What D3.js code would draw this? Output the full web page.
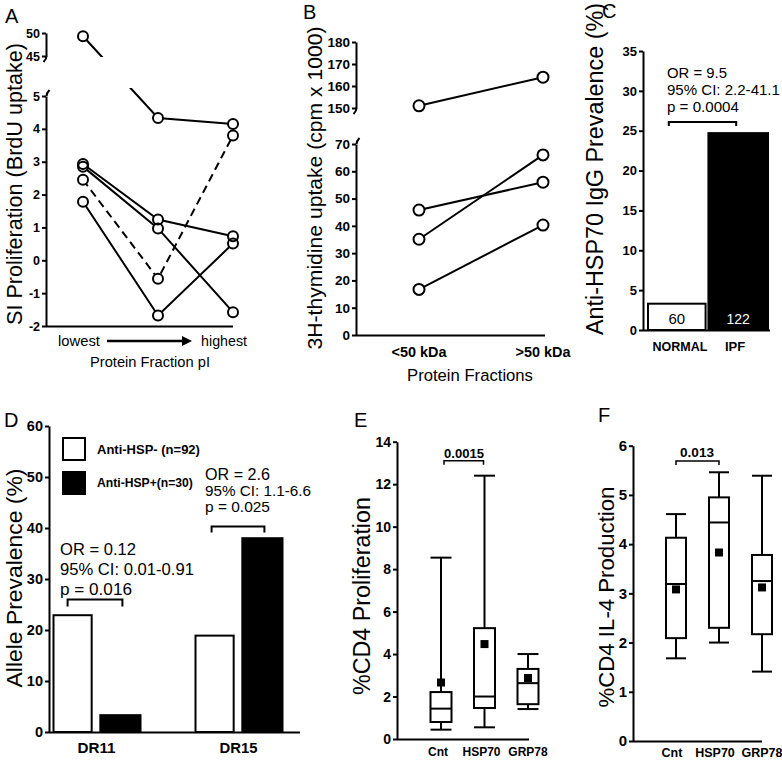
<!DOCTYPE html>
<html><head><meta charset="utf-8">
<script src="https://cdn.jsdelivr.net/npm/d3@7"></script>
<style>body{margin:0;background:#fff}</style>
</head><body>
<svg id="chart" width="782" height="760"></svg>
<script>
// ---------------- DATA ----------------
// Panel A : SI proliferation per protein fraction pI
const aFractions = ["lowest", "middle", "highest"];
const aUpperTicks = [45, 50];
const aLowerTicks = [-2, -1, 0, 1, 2, 3, 4, 5];
const aSubject1 = [49.3, 4.33, 4.15];
const aSubject2 = [2.45, -0.56, 3.8];   // dashed
const aSubject3 = [2.93, 1.24, 0.73];
const aSubject4 = [2.85, 0.97, -1.58];
const aSubject5 = [1.78, -1.68, 0.51];
const aDashed = [false, true, false, false, false];

// Panel B : 3H-thymidine uptake
const bFractions = ["<50 kDa", ">50 kDa"];
const bUpperTicks = [150, 160, 170, 180];
const bLowerTicks = [0, 10, 20, 30, 40, 50, 60, 70];
const bSubject1 = [151, 164];
const bSubject2 = [45.8, 56];
const bSubject3 = [35.1, 66];
const bSubject4 = [16.7, 40.3];

// Panel C : Anti-HSP70 IgG prevalence
const cGroups = ["NORMAL", "IPF"];
const cPrevalence = [3.3, 24.7];
const cN = ["60", "122"];
const cTicks = [0, 5, 10, 15, 20, 25, 30, 35];
const cStats = ["OR = 9.5", "95% CI: 2.2-41.1", "p = 0.0004"];
const cBracketLevel = 26.1;

// Panel D : Allele prevalence
const dAlleles = ["DR11", "DR15"];
const dSeries = ["Anti-HSP- (n=92)", "Anti-HSP+(n=30)"];
const dNegative = [22.9, 18.9];
const dPositive = [3.3, 38.0];
const dTicks = [0, 10, 20, 30, 40, 50, 60];
const dStatsDR11 = ["OR = 0.12", "95% CI: 0.01-0.91", "p = 0.016"];
const dStatsDR15 = ["OR = 2.6", "95% CI: 1.1-6.6", "p = 0.025"];
const dBracketLevels = [26.0, 40.3];

// Panel E : %CD4 proliferation (box plots)
const eGroups = ["Cnt", "HSP70", "GRP78"];
const eMin = [0.44, 0.55, 1.41];
const eQ1 = [0.80, 1.46, 1.64];
const eMedian = [1.43, 2.00, 2.63];
const eQ3 = [2.21, 5.22, 3.30];
const eMax = [8.54, 12.4, 4.00];
const eMean = [2.66, 4.47, 2.87];
const eTicks = [0, 2, 4, 6, 8, 10, 12, 14];
const eP = "0.0015";
const eBracketLevel = 13.1;

// Panel F : %CD4 IL-4 production (box plots)
const fGroups = ["Cnt", "HSP70", "GRP78"];
const fMin = [1.68, 2.00, 1.41];
const fQ1 = [2.09, 2.30, 2.17];
const fMedian = [3.19, 4.44, 3.25];
const fQ3 = [4.13, 4.95, 3.78];
const fMax = [4.61, 5.46, 5.39];
const fMean = [3.08, 3.83, 3.12];
const fTicks = [0, 1, 2, 3, 4, 5, 6];
const fP = "0.013";
const fBracketLevel = 5.69;

// ---------------- HELPERS ----------------
const FONT = '"Liberation Sans", Arial, sans-serif';
const svg = d3.select("#chart");

function fit(t, len) {
  const l = t.node().getComputedTextLength();
  const fs = parseFloat(t.attr("font-size"));
  t.attr("font-size", (fs * len / l).toFixed(2));
  return t;
}
function txt(x, y, s, fs, opts = {}) {
  const t = svg.append("text").attr("x", x).attr("y", y).text(s)
    .attr("font-family", FONT).attr("font-size", fs).attr("fill", opts.fill || "#000")
    .attr("font-weight", opts.bold ? "bold" : "normal")
    .attr("text-anchor", opts.anchor || "start");
  if (opts.len) fit(t, opts.len);
  return t;
}
function vTitle(s, cx, cy, len) {
  const t = svg.append("text").attr("transform", `translate(${cx},${cy}) rotate(-90)`)
    .attr("text-anchor", "middle").attr("dominant-baseline", "central")
    .attr("font-family", FONT).attr("font-size", 18).attr("fill", "#000").text(s);
  fit(t, len);
}
function panelLetter(s, x, y) {
  svg.append("text").attr("x", x).attr("y", y).text(s)
    .attr("font-family", FONT).attr("font-size", 20).attr("fill", "#000");
}
function yAxis(scale, ticks, x, fs) {
  const a = svg.append("g").attr("transform", `translate(${x},0)`)
    .call(d3.axisLeft(scale).tickValues(ticks).tickSize(4).tickSizeOuter(0).tickPadding(2).tickFormat(d => String(d)));
  a.select(".domain").attr("stroke", "#000").attr("stroke-width", 2);
  a.selectAll(".tick line").attr("stroke", "#000").attr("stroke-width", 2);
  a.selectAll(".tick text").attr("font-family", FONT).attr("font-weight", "bold")
    .attr("font-size", fs).attr("fill", "#000");
  return a;
}
function hline(x1, x2, y, w = 2) {
  svg.append("line").attr("x1", x1).attr("x2", x2).attr("y1", y).attr("y2", y)
    .attr("stroke", "#000").attr("stroke-width", w);
}
function hook(x, y, dir) {
  svg.append("path").attr("d", `M${x},${y} q0,${3 * dir} ${-3 * dir},${6 * dir}`)
    .attr("fill", "none").attr("stroke", "#000").attr("stroke-width", 2);
}
function bracket(x1, x2, y, leg, w = 2) {
  svg.append("path").attr("d", `M${x1},${y + leg}V${y}H${x2}V${y + leg}`)
    .attr("fill", "none").attr("stroke", "#000").attr("stroke-width", w);
}
function circles(points, r) {
  const g = svg.append("g");
  g.selectAll("circle.f").data(points).join("circle").attr("cx", d => d[0]).attr("cy", d => d[1])
    .attr("r", r).attr("fill", "#fff");
  g.selectAll("circle.s").data(points).join("circle").attr("cx", d => d[0]).attr("cy", d => d[1])
    .attr("r", r).attr("fill", "none").attr("stroke", "#000").attr("stroke-width", 2);
}

// ---------------- PANEL A ----------------
panelLetter("A", 5, 23);
const aX = d3.scalePoint().domain(aFractions).range([83, 233]);
const aYTop = d3.scaleLinear().domain([45, 50]).range([56, 33]);
const aYBot = d3.scaleLinear().domain([-2, 5]).range([326, 96]);
const aY = v => v >= 45 ? aYTop(v) : aYBot(v);
yAxis(aYTop, aUpperTicks, 46, 12.5);
yAxis(aYBot, aLowerTicks, 46, 12.5);
hook(46.5, 56, 1); hook(46.5, 96, -1);
hline(46, 233, 326.5);
const aDefs = svg.append("defs");
const aClip = aDefs.append("clipPath").attr("id", "clipA");
aClip.append("rect").attr("x", 0).attr("y", 0).attr("width", 260).attr("height", 57);
aClip.append("rect").attr("x", 0).attr("y", 88).attr("width", 260).attr("height", 260);
const aAll = [aSubject1, aSubject2, aSubject3, aSubject4, aSubject5];
const aLine = d3.line().x((d, i) => aX(aFractions[i])).y(d => aY(d));
svg.append("g").attr("clip-path", "url(#clipA)").selectAll("path").data(aAll).join("path")
  .attr("d", aLine).attr("fill", "none").attr("stroke", "#000").attr("stroke-width", 2)
  .attr("stroke-dasharray", (d, i) => aDashed[i] ? "8,5" : null);
circles(aAll.flatMap(s => s.map((v, i) => [aX(aFractions[i]), aY(v)])), 5);
txt(58, 346, "lowest", 14, { len: 42 });
txt(247, 346, "highest", 14, { anchor: "end", len: 46 });
svg.append("line").attr("x1", 107).attr("x2", 183).attr("y1", 341).attr("y2", 341)
  .attr("stroke", "#000").attr("stroke-width", 2.5);
svg.append("path").attr("d", "M182,336L192,341L182,346Z").attr("fill", "#000");
txt(150, 367, "Protein Fraction pI", 14, { anchor: "middle", len: 120 });
vTitle("SI Proliferation (BrdU uptake)", 14, 184, 282);

// ---------------- PANEL B ----------------
panelLetter("B", 303, 19);
const bX = d3.scalePoint().domain(bFractions).range([419, 543]);
const bYTop = d3.scaleLinear().domain([150, 180]).range([108, 42]);
const bYBot = d3.scaleLinear().domain([0, 70]).range([335, 144]);
const bY = v => v >= 150 ? bYTop(v) : bYBot(v);
yAxis(bYTop, bUpperTicks, 356, 13.5);
yAxis(bYBot, bLowerTicks, 356, 13.5);
hook(356.5, 108, 1); hook(356.5, 144, -1);
hline(356, 545, 335.5);
const bAll = [bSubject1, bSubject2, bSubject3, bSubject4];
const bLine = d3.line().x((d, i) => bX(bFractions[i])).y(d => bY(d));
svg.append("g").selectAll("path").data(bAll).join("path")
  .attr("d", bLine).attr("fill", "none").attr("stroke", "#000").attr("stroke-width", 2);
circles(bAll.flatMap(s => s.map((v, i) => [bX(bFractions[i]), bY(v)])), 5.5);
bFractions.forEach(f => txt(bX(f), 357, f, 13.5, { anchor: "middle", bold: true, len: 55 }));
txt(470, 381, "Protein Fractions", 15, { anchor: "middle", len: 126 });
vTitle("3H-thymidine uptake (cpm x 1000)", 314, 188, 323);

// ---------------- PANEL C ----------------
panelLetter("C", 602, 18);
const cX = d3.scaleBand().domain(cGroups).range([647, 768]).paddingInner(0.03);
const cY = d3.scaleLinear().domain([0, 35]).range([330, 51]);
const cFill = ["#fff", "#000"];
svg.append("g").selectAll("rect").data(cPrevalence).join("rect")
  .attr("x", (d, i) => cX(cGroups[i]) + (i === 0 ? 1 : 0)).attr("width", (d, i) => cX.bandwidth() - (i === 0 ? 2 : 0))
  .attr("y", d => cY(d)).attr("height", d => cY(0) - cY(d))
  .attr("fill", (d, i) => cFill[i]).attr("stroke", "#000").attr("stroke-width", 2);
yAxis(cY, cTicks, 643, 13);
hline(643, 770, 330.5);
cGroups.forEach((g, i) => {
  txt(cX(g) + cX.bandwidth() / 2, 324, cN[i], i === 0 ? 15 : 14, { anchor: "middle", fill: i === 0 ? "#000" : "#fff" });
});
txt(680, 351, "NORMAL", 13, { anchor: "middle", bold: true, len: 55 });
txt(735, 351, "IPF", 13, { anchor: "middle", bold: true });
const cLens = [60, 113, 72];
cStats.forEach((s, i) => txt(667, 78 + 17 * i, s, 14, { len: cLens[i] }));
bracket(cX(cGroups[0]) + cX.bandwidth() / 2 - 8, cX(cGroups[1]) + cX.bandwidth() / 2 - 2, cY(cBracketLevel), 4);
vTitle("Anti-HSP70 IgG Prevalence (%)", 595, 169, 332);

// ---------------- PANEL D ----------------
panelLetter("D", 4, 427);
const dX = d3.scalePoint().domain(dAlleles).range([96.5, 238.5]);
const dSub = d3.scaleBand().domain([0, 1]).range([-44, 44]).paddingInner(0.16);
const dY = d3.scaleLinear().domain([0, 60]).range([732, 426]);
const dFill = ["#fff", "#000"];
[dNegative, dPositive].forEach((vals, s) => {
  svg.append("g").selectAll("rect").data(vals).join("rect")
    .attr("x", (d, i) => dX(dAlleles[i]) + dSub(s) + (s === 0 ? 1 : 0))
    .attr("width", dSub.bandwidth() - (s === 0 ? 2 : 0))
    .attr("y", d => dY(d)).attr("height", d => dY(0) - dY(d))
    .attr("fill", dFill[s]).attr("stroke", "#000").attr("stroke-width", 2);
});
yAxis(dY, dTicks, 49, 14.5);
hline(49, 300, 732.5);
dAlleles.forEach(a => txt(dX(a), 753, a, 15, { anchor: "middle", bold: true, len: 38 }));
// legend
svg.append("rect").attr("x", 63).attr("y", 438).attr("width", 22).attr("height", 22)
  .attr("fill", "#fff").attr("stroke", "#000").attr("stroke-width", 2);
svg.append("rect").attr("x", 62).attr("y", 471).attr("width", 24).attr("height", 24).attr("fill", "#000");
txt(97, 454, dSeries[0], 12, { bold: true, len: 103 });
txt(97, 487, dSeries[1], 12, { bold: true, len: 96 });
const d11Lens = [76, 134, 72];
dStatsDR11.forEach((s, i) => txt(60, 555 + 20 * i, s, 16, { len: d11Lens[i] }));
const d15Lens = [65, 106, 65];
dStatsDR15.forEach((s, i) => txt(205, 480 + 16 * i, s, 16, { len: d15Lens[i] }));
const dBar = (a, s) => dX(a) + dSub(s) + dSub.bandwidth() / 2;
bracket(dBar("DR11", 0) - 5, dBar("DR11", 1) + 2, dY(dBracketLevels[0]), 7);
bracket(dBar("DR15", 0) - 3, dBar("DR15", 1) + 2, dY(dBracketLevels[1]), 6);
vTitle("Allele Prevalence (%)", 14, 578, 219);

// ---------------- BOX PLOTS ----------------
function boxes(x, y, groups, mins, q1, med, q3, maxs, means, bw) {
  const g = svg.append("g").attr("stroke", "#000").attr("stroke-width", 2);
  groups.forEach((k, i) => {
    const cx = x(k);
    g.append("line").attr("x1", cx).attr("x2", cx).attr("y1", y(maxs[i])).attr("y2", y(q3[i]));
    g.append("line").attr("x1", cx).attr("x2", cx).attr("y1", y(q1[i])).attr("y2", y(mins[i]));
    g.append("line").attr("x1", cx - bw / 2).attr("x2", cx + bw / 2).attr("y1", y(maxs[i])).attr("y2", y(maxs[i]));
    g.append("line").attr("x1", cx - bw / 2).attr("x2", cx + bw / 2).attr("y1", y(mins[i])).attr("y2", y(mins[i]));
    g.append("rect").attr("x", cx - bw / 2).attr("width", bw).attr("y", y(q3[i])).attr("height", y(q1[i]) - y(q3[i]))
      .attr("fill", "#fff");
    g.append("line").attr("x1", cx - bw / 2).attr("x2", cx + bw / 2).attr("y1", y(med[i])).attr("y2", y(med[i]));
    g.append("rect").attr("x", cx - 4).attr("y", y(means[i]) - 4).attr("width", 8).attr("height", 8)
      .attr("fill", "#000").attr("stroke", "none");
  });
}

// ---------------- PANEL E ----------------
panelLetter("E", 354, 427);
const eX = d3.scalePoint().domain(eGroups).range([441, 528]);
const eY = d3.scaleLinear().domain([0, 14]).range([739, 441.7]);
yAxis(eY, eTicks, 397, 14);
hline(397, 529, 739.5);
boxes(eX, eY, eGroups, eMin, eQ1, eMedian, eQ3, eMax, eMean, 21);
eGroups.forEach(k => txt(eX(k) - (k === "GRP78" ? 0 : 3), 756, k, 12, { anchor: "middle", bold: true }));
bracket(eX("Cnt") + 3, eX("HSP70") - 1, eY(eBracketLevel), 4, 1.5);
txt(464, 458, eP, 12, { anchor: "middle", bold: true, len: 40 });
vTitle("%CD4 Proliferation", 362, 596, 198);

// ---------------- PANEL F ----------------
panelLetter("F", 598, 422);
const fX = d3.scalePoint().domain(fGroups).range([676, 762]);
const fY = d3.scaleLinear().domain([0, 6]).range([741, 445.7]);
yAxis(fY, fTicks, 633, 15);
hline(633, 762, 741.5);
boxes(fX, fY, fGroups, fMin, fQ1, fMedian, fQ3, fMax, fMean, 20);
fGroups.forEach(k => txt(fX(k) - (k === "GRP78" ? 0 : 4), 757, k, 12.5, { anchor: "middle", bold: true }));
bracket(fX("Cnt"), fX("HSP70"), fY(fBracketLevel), 4, 1.5);
txt(697, 457, fP, 12, { anchor: "middle", bold: true, len: 34 });
vTitle("%CD4 IL-4 Production", 606, 597, 221);
</script>
</body></html>
